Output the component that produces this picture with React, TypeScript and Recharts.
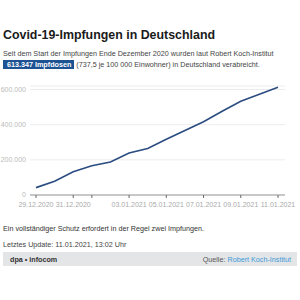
// Covid-19 vaccinations in Germany: cumulative doses per day, dpa-infocom style card.

import { LineChart, Line, XAxis, YAxis, CartesianGrid } from "recharts";

const dates = [
    "29.12.2020", "30.12.2020", "31.12.2020", "01.01.2021", "02.01.2021", "03.01.2021", "04.01.2021",
    "05.01.2021", "06.01.2021", "07.01.2021", "08.01.2021", "09.01.2021", "10.01.2021", "11.01.2021",
];
const doses = [
    41962, 78109, 131626, 166000, 188000, 238809, 265000,
    316962, 367331, 417060, 476000, 532878, 573000, 613347,
];
const xTicks = [0, 2, 3, 5, 7, 9, 11, 13];
const xTickLabels = ["29.12.2020", "31.12.2020", "", "03.01.2021", "05.01.2021", "07.01.2021", "09.01.2021", "11.01.2021"];
const yTicks = [0, 200000, 400000, 600000];

const data = dates.map((d, i) => ({ day: i, date: d, doses: doses[i] }));

const FONT = '"Liberation Sans", Arial, sans-serif';
const LINE = "#2b4c80";
const BOX = "#1d5293";

const fmtDe = (v: number) => String(v).replace(/\B(?=(\d{3})+(?!\d))/g, ".");

const abs = (top: number, extra: React.CSSProperties = {}): React.CSSProperties => ({
    position: "absolute", left: 3, top, whiteSpace: "nowrap", ...extra,
});

export default function App() {
    return (
        <div style={{ position: "absolute", left: 0, top: 0, width: 300, height: 300, background: "#fff", fontFamily: FONT, color: "#333" }}>
            <div style={abs(27.5, { fontSize: 12.4, fontWeight: "bold", color: "#1a1a1a" })}>
                Covid-19-Impfungen in Deutschland
            </div>
            <div style={abs(49, { fontSize: 7.2, color: "#444" })}>
                Seit dem Start der Impfungen Ende Dezember 2020 wurden laut Robert Koch-Institut
            </div>
            <div style={abs(59.5, { fontSize: 7.2, color: "#444", lineHeight: "9px" })}>
                <span style={{ background: BOX, color: "#fff", fontWeight: "bold", padding: "0 3px 0 4px", display: "inline-block" }}>
                    613.347 Impfdosen
                </span>
                <span> (737,5 je 100 000 Einwohner) in Deutschland verabreicht.</span>
            </div>

            <div style={{ position: "absolute", left: 0, top: 80 }}>
                <LineChart width={300} height={140} data={data} margin={{ top: 6, right: 15, left: 0, bottom: 5 }}>
                    <CartesianGrid horizontal vertical={false} stroke="#ececec" strokeWidth={1} />
                    <XAxis
                        dataKey="day"
                        type="number"
                        domain={[0, 13]}
                        ticks={xTicks}
                        tickFormatter={(v) => xTickLabels[xTicks.indexOf(v)] ?? ""}
                        interval={0}
                        height={20}
                        padding={{ left: 6, right: 7 }}
                        axisLine={{ stroke: "#999" }}
                        tickLine={{ stroke: "#666" }}
                        tickSize={3}
                        tickMargin={4}
                        tick={{ fontSize: 7, fill: "#aaa", fontFamily: FONT }}
                    />
                    <YAxis
                        domain={[0, 620000]}
                        ticks={yTicks}
                        tickFormatter={fmtDe}
                        width={30}
                        axisLine={false}
                        tickLine={false}
                        tickSize={4}
                        tickMargin={0}
                        tick={{ fontSize: 7, fill: "#bbb", fontFamily: FONT }}
                    />
                    <Line
                        type="linear"
                        dataKey="doses"
                        stroke={LINE}
                        strokeWidth={1.6}
                        dot={false}
                        isAnimationActive={false}
                    />
                </LineChart>
            </div>

            <div style={abs(224, { fontSize: 7.2, color: "#333" })}>
                Ein vollständiger Schutz erfordert in der Regel zwei Impfungen.
            </div>
            <div style={abs(239.5, { fontSize: 7.2, color: "#444" })}>
                Letztes Update: 11.01.2021, 13:02 Uhr
            </div>
            <div style={{
                position: "absolute", left: 3, top: 252, width: 294, height: 14, background: "#e4e5e7",
                display: "flex", alignItems: "center", justifyContent: "space-between", fontSize: 7.2,
                boxSizing: "border-box", padding: "0 6px 0 7px",
            }}>
                <span style={{ color: "#333", fontWeight: "bold" }}>dpa • infocom</span>
                <span style={{ color: "#555" }}>
                    Quelle: <span style={{ color: "#3b9ad9" }}>Robert Koch-Institut</span>
                </span>
            </div>
        </div>
    );
}
